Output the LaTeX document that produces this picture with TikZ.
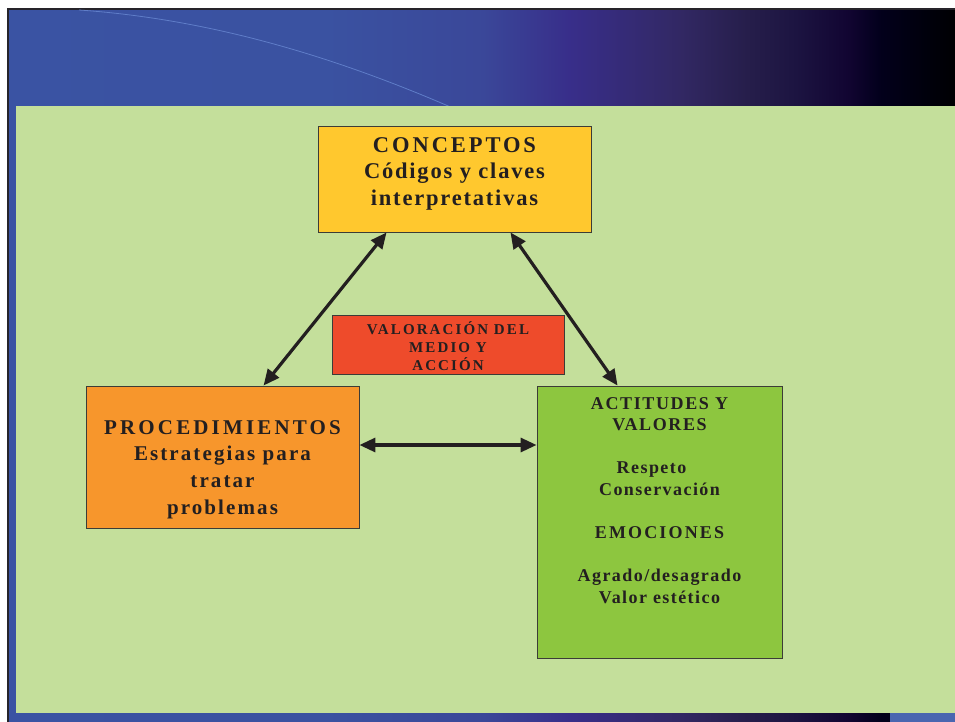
\documentclass[tikz,border=0pt]{standalone}
\usepackage{fontspec}
\setmainfont{Liberation Serif}
\usetikzlibrary{arrows.meta}

\definecolor{ink}{RGB}{35,31,32}
\definecolor{panel}{RGB}{196,223,155}
\definecolor{conccol}{RGB}{255,200,46}
\definecolor{valcol}{RGB}{238,75,43}
\definecolor{proccol}{RGB}{247,150,44}
\definecolor{actcol}{RGB}{141,198,63}
\definecolor{edge}{RGB}{60,60,55}
\definecolor{framecol}{RGB}{38,36,42}
\definecolor{arccol}{RGB}{95,125,200}
\definecolor{footblue}{RGB}{74,102,176}

% blue-to-black band of the slide background (the path spans 25bp..75bp)
\pgfdeclarehorizontalshading{banner}{100bp}{
  rgb(0bp)=(0.227,0.325,0.639);
  rgb(25bp)=(0.227,0.325,0.639);
  rgb(42bp)=(0.227,0.32,0.63);
  rgb(50bp)=(0.227,0.28,0.6);
  rgb(54.65bp)=(0.22,0.18,0.54);
  rgb(60.5bp)=(0.196,0.157,0.39);
  rgb(64bp)=(0.149,0.118,0.294);
  rgb(66.6bp)=(0.11,0.078,0.255);
  rgb(69.3bp)=(0.07,0.02,0.196);
  rgb(71bp)=(0.01,0,0.11);
  rgb(73.7bp)=(0,0,0.04);
  rgb(75bp)=(0,0,0.01);
  rgb(100bp)=(0,0,0.01)}

\newcommand\spaced[2]{{\addfontfeature{LetterSpace=#1}#2}}

\tikzset{
  card/.style={draw=edge, line width=0.9pt, inner sep=0pt},
  words/.style={inner sep=0pt, align=center, text=ink, anchor=north},
  link/.style={draw=ink, line width=3.2pt,
    {Triangle[length=16pt,width=14pt]}-{Triangle[length=16pt,width=14pt]}},
}

\begin{document}
\begin{tikzpicture}[x=1pt,y=-1pt]
\useasboundingbox (0,0) rectangle (955,722);
\fill[white] (0,0) rectangle (955,722);

% slide background
\shade[shading=banner] (9,10) rectangle (955,722);
\fill[framecol] (7,8) rectangle (955,10);
\fill[framecol] (7,8) rectangle (9,722);
\draw[arccol, line width=0.8pt] (79,10) .. controls (209,19) and (335,56) .. (462,112);
\fill[panel] (16,106) rectangle (955,713);
\fill[footblue] (890,713) rectangle (955,722);

% boxes
\node[card, fill=conccol, minimum width=273pt, minimum height=106pt] (conc) at (454.5,179) {};
\node[card, fill=valcol, minimum width=232pt, minimum height=59pt] (val) at (448,344.5) {};
\node[card, fill=proccol, minimum width=273pt, minimum height=142pt] (proc) at (222.5,457) {};
\node[card, fill=actcol, minimum width=245pt, minimum height=272pt] (act) at (659.5,522) {};

% connectors
\draw[link] ([xshift=69pt]conc.south west) -- ([xshift=178pt]proc.north west);
\draw[link] ([xshift=-81pt]conc.south east) -- ([xshift=81pt]act.north west);
\draw[link] ([yshift=12pt]proc.east) -- ([yshift=12pt]proc.east -| act.west);

% texts
\node[words, font=\fontsize{22.5}{26.5}\selectfont\bfseries\addfontfeature{LetterSpace=8}] (conct) at (454.5,137)
  {\spaced{13}{CONCEPTOS}\\ Códigos y claves\\ interpretativas};
\node[words, font=\fontsize{15}{18.3}\selectfont\bfseries\addfontfeature{LetterSpace=14}] (valt) at (448,321)
  {VALORACIÓN DEL\\ MEDIO Y\\ ACCIÓN};
\node[words, font=\fontsize{21}{26.7}\selectfont\bfseries\addfontfeature{LetterSpace=10}] (proct) at (222.5,420)
  {\spaced{15}{PROCEDIMIENTOS}\\ Estrategias para\\ tratar\\ problemas};
\node[words, font=\fontsize{18}{21.6}\selectfont\bfseries\addfontfeature{LetterSpace=8}] (actt) at (659.5,397)
  {\spaced{9}{ACTITUDES Y}\\ \spaced{9}{VALORES}\\[21.6pt]
   Respeto\kern16pt\\ Conservación\\[21.6pt]
   \spaced{12}{EMOCIONES}\\[21.6pt]
   Agrado/desagrado\\ Valor estético};
\end{tikzpicture}
\end{document}
